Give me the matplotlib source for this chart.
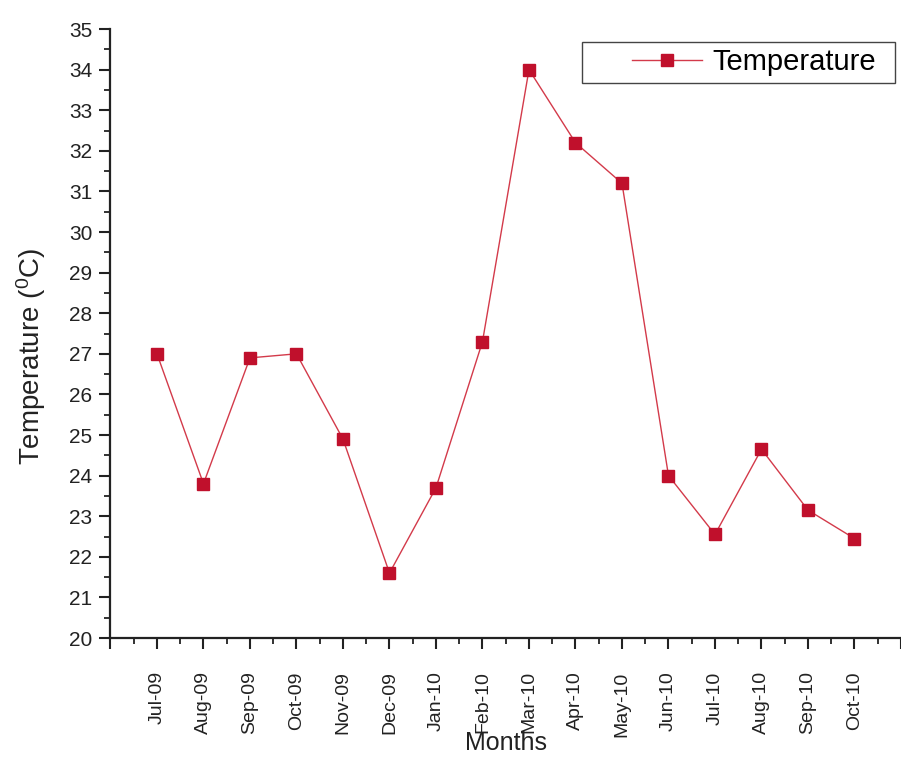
import matplotlib
matplotlib.use("Agg")
import matplotlib.pyplot as plt
from matplotlib.patches import Rectangle
from matplotlib.ticker import MultipleLocator, FixedLocator

# monthly mean temperature, Jul 2009 - Oct 2010
months = ["Jul-09", "Aug-09", "Sep-09", "Oct-09", "Nov-09", "Dec-09",
          "Jan-10", "Feb-10", "Mar-10", "Apr-10", "May-10", "Jun-10",
          "Jul-10", "Aug-10", "Sep-10", "Oct-10"]
temperature = [27.0, 23.8, 26.9, 27.0, 24.9, 21.6,
               23.7, 27.3, 34.0, 32.2, 31.2, 24.0,
               22.55, 24.65, 23.15, 22.45]

plt.rcParams["font.family"] = ["Liberation Sans", "DejaVu Sans"]
plt.rcParams["mathtext.fontset"] = "custom"
plt.rcParams["mathtext.rm"] = "Liberation Sans"
plt.rcParams["mathtext.it"] = "Liberation Sans"

fig = plt.figure(figsize=(9.01, 7.58), dpi=100)
ax = fig.add_axes([0.1226, 0.1583, 0.8774, 0.8034])

x = list(range(1, len(months) + 1))
ax.plot(x, temperature, color="#d33a4a", linewidth=1.0,
        marker="s", markersize=8, markerfacecolor="#c0102c",
        markeredgecolor="#c0102c", label="Temperature")

ax.set_xlim(0, 17)
ax.set_ylim(20, 35)

# only left and bottom axes, ticks pointing out
for side in ("top", "right"):
    ax.spines[side].set_visible(False)
for side in ("left", "bottom"):
    ax.spines[side].set_linewidth(1.6)
    ax.spines[side].set_color("#222222")

ax.xaxis.set_major_locator(FixedLocator(range(0, 18)))
ax.xaxis.set_minor_locator(MultipleLocator(0.5))
ax.set_xticklabels([""] + months + [""], rotation=90, va="top", ha="center")
ax.yaxis.set_major_locator(MultipleLocator(1))
ax.yaxis.set_minor_locator(MultipleLocator(0.5))

ax.tick_params(axis="both", which="major", direction="out", length=8,
               width=1.5, color="#222222", labelcolor="#222222")
ax.tick_params(axis="both", which="minor", direction="out", length=4,
               width=1.3, color="#222222")
ax.tick_params(axis="y", which="major", labelsize=15, pad=5)
ax.tick_params(axis="x", which="major", labelsize=14, pad=16)

ax.set_ylabel(r"Temperature ($^0$C)", fontsize=20, color="#222222")
ax.yaxis.set_label_coords(-0.079, 0.463)
ax.set_xlabel("Months", fontsize=18, color="#222222")
ax.xaxis.set_label_coords(0.5, -0.152)

# legend box with a wide left margin
fig.patches.append(Rectangle((0.646, 0.8905), 0.3474, 0.0541,
                             transform=fig.transFigure, fill=False,
                             edgecolor="#444444", linewidth=1.0))
ax.legend(loc="center right", bbox_to_anchor=(0.972, 0.918),
          bbox_transform=fig.transFigure, fontsize=21, frameon=False,
          handlelength=2.4, handletextpad=0.35, borderpad=0,
          borderaxespad=0)

fig.savefig("out.png", dpi=100, facecolor="white")
